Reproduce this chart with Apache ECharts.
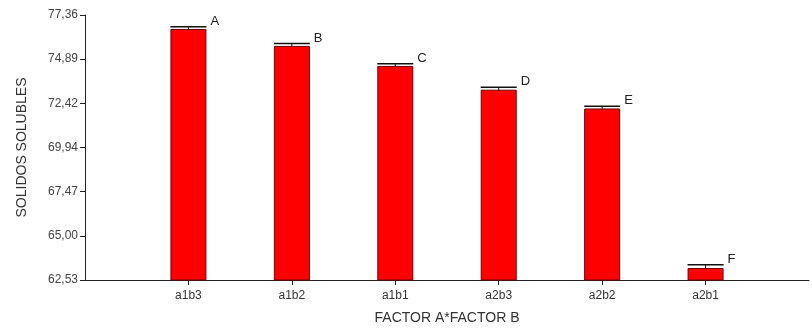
<!DOCTYPE html>
<html><head><meta charset="utf-8">
<script src="https://cdn.jsdelivr.net/npm/echarts@6/dist/echarts.min.js"></script>
<style>html,body{margin:0;padding:0;background:#fff}#c{width:812px;height:330px}</style>
</head><body><div id="c"></div>
<script>
var categories = ['a1b3', 'a1b2', 'a1b1', 'a2b3', 'a2b2', 'a2b1'];
var means = [76.58, 75.63, 74.51, 73.18, 72.13, 63.20];
var errors = [0.12, 0.13, 0.12, 0.13, 0.13, 0.18];
var groups = ['A', 'B', 'C', 'D', 'E', 'F'];
var yTicks = [62.53, 65.00, 67.47, 69.94, 72.42, 74.89, 77.36];

var axisCats = [''].concat(categories).concat(['']);
var barData = [null].concat(means).concat([null]);
var errData = categories.map(function (c, i) { return [i + 1, means[i], errors[i], groups[i]]; });

var FONT = 'Liberation Sans, Arial, sans-serif';
var chart = echarts.init(document.getElementById('c'));
var BW = 36;
chart.setOption({
  animation: false,
  backgroundColor: '#fff',
  textStyle: { fontFamily: FONT },
  grid: { left: 85, top: 15, width: 737, height: 266 },
  xAxis: {
    type: 'category',
    data: axisCats,
    boundaryGap: false,
    name: 'FACTOR A*FACTOR B',
    nameLocation: 'middle',
    nameGap: 31,
    nameTextStyle: { color: '#333', fontSize: 14, fontFamily: FONT },
    axisLine: { lineStyle: { color: '#222', width: 1 } },
    axisTick: { length: 5, lineStyle: { color: '#222' },
      interval: function (i) { return i > 0 && i < axisCats.length - 1; } },
    axisLabel: { color: '#333', fontSize: 12, margin: 10, interval: 0, fontFamily: FONT },
    splitLine: { show: false }
  },
  yAxis: {
    type: 'value',
    min: yTicks[0],
    max: yTicks[yTicks.length - 1],
    name: 'SOLIDOS SOLUBLES',
    nameLocation: 'middle',
    nameGap: 56,
    nameRotate: 90,
    nameTextStyle: { color: '#333', fontSize: 14, fontFamily: FONT },
    axisLine: { show: true, lineStyle: { color: '#222', width: 1 } },
    axisTick: { show: true, length: 5, lineStyle: { color: '#222' }, customValues: yTicks },
    axisLabel: { color: '#444', fontSize: 12, margin: 7, customValues: yTicks, fontFamily: FONT,
      formatter: function (v) { return Number(v).toFixed(2).replace('.', ','); } },
    splitLine: { show: false }
  },
  series: [
    {
      type: 'bar',
      data: barData,
      barWidth: BW,
      itemStyle: { color: '#ff0000', borderColor: '#700000', borderWidth: 1 }
    },
    {
      type: 'custom',
      data: errData,
      z: 5,
      renderItem: function (params, api) {
        var x = api.value(0), m = api.value(1), e = api.value(2);
        var pTop = api.coord([x, m + e]);
        var pMid = api.coord([x, m]);
        var half = BW / 2;
        return {
          type: 'group',
          children: [
            { type: 'line', shape: { x1: pTop[0] - half, y1: pTop[1], x2: pTop[0] + half, y2: pTop[1] },
              style: { stroke: '#111', lineWidth: 1.5 } },
            { type: 'line', shape: { x1: pTop[0], y1: pTop[1], x2: pMid[0], y2: pMid[1] + 1 },
              style: { stroke: '#111', lineWidth: 1 } },
            { type: 'text', x: pTop[0] + half + 4, y: pTop[1] + 1,
              style: { text: api.value(3), fill: '#222', fontSize: 13,
                fontFamily: FONT, align: 'left', verticalAlign: 'bottom' } }
          ]
        };
      }
    }
  ]
});
</script>
</body></html>
